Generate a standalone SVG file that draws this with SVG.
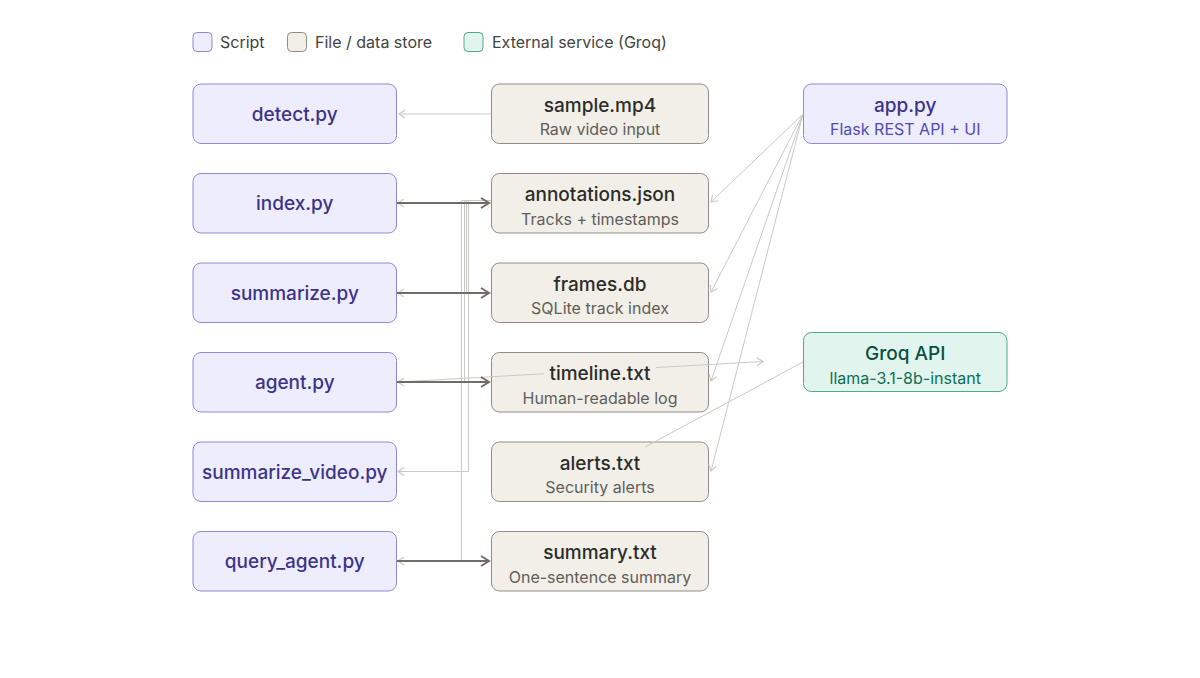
<svg xmlns="http://www.w3.org/2000/svg" width="1200" height="678" viewBox="0 0 1200 678">
<style>
  text { font-family: Inter, "Noto Sans", "Liberation Sans", sans-serif; text-anchor: middle; }
  .script { fill: #EEEDFE; stroke: #8F87DA; stroke-width: 1; }
  .file { fill: #F1EFE8; stroke: #8D8C86; stroke-width: 1; }
  .ext { fill: #E1F5EE; stroke: #4FA88A; stroke-width: 1; }
  .st { fill: #3C3489; font-size: 19px; font-weight: 500; }
  .ft { fill: #2C2C2A; font-size: 19px; font-weight: 500; }
  .fs { fill: #5F5E5A; font-size: 16px; }
  .as { fill: #534AB7; font-size: 16px; }
  .gt { fill: #085041; font-size: 19px; font-weight: 500; }
  .gs { fill: #0F6E56; font-size: 16px; }
  .leg { fill: #444441; font-size: 16px; text-anchor: start; }
  .light { fill: none; stroke: #C9C9C6; stroke-width: 1; }
  .dark { fill: none; stroke: #6E6D69; stroke-width: 2; }
</style>
<defs>
  <marker id="ah-light" markerUnits="userSpaceOnUse" markerWidth="12" markerHeight="12" viewBox="0 0 12 12" refX="10" refY="6" orient="auto">
    <path d="M4,2 L10,6 L4,10" fill="none" stroke="#C9C9C6" stroke-width="1.2"/>
  </marker>
  <marker id="ah-dark" markerUnits="userSpaceOnUse" markerWidth="14" markerHeight="14" viewBox="0 0 14 14" refX="12" refY="7" orient="auto">
    <path d="M4,2 L12,7 L4,12" fill="none" stroke="#6E6D69" stroke-width="2"/>
  </marker>
  <mask id="tlmask" maskUnits="userSpaceOnUse" x="0" y="0" width="1200" height="678">
    <rect x="0" y="0" width="1200" height="678" fill="#fff"/>
    <rect x="544" y="358" width="112" height="30" fill="#000"/>
  </mask>
</defs>

<g id="legend">
  <rect x="193" y="32.5" width="19" height="19" rx="4" class="script"/>
  <text x="220" y="47.5" class="leg">Script</text>
  <rect x="287.5" y="32.5" width="19" height="19" rx="4" class="file"/>
  <text x="315" y="47.5" class="leg">File / data store</text>
  <rect x="464" y="32.5" width="19" height="19" rx="4" class="ext"/>
  <text x="492" y="47.5" class="leg">External service (Groq)</text>
</g>

<g id="detect"><rect x="193" y="84" width="203.5" height="59.5" rx="8" class="script"/><text x="294.75" y="120.5" class="st">detect.py</text></g>
<g id="index"><rect x="193" y="173.5" width="203.5" height="59.5" rx="8" class="script"/><text x="294.75" y="210" class="st">index.py</text></g>
<g id="summarize"><rect x="193" y="263" width="203.5" height="59.5" rx="8" class="script"/><text x="294.75" y="299.5" class="st">summarize.py</text></g>
<g id="agent"><rect x="193" y="352.5" width="203.5" height="59.5" rx="8" class="script"/><text x="294.75" y="389" class="st">agent.py</text></g>
<g id="summarize_video"><rect x="193" y="442" width="203.5" height="59.5" rx="8" class="script"/><text x="294.75" y="478.5" class="st">summarize_video.py</text></g>
<g id="query_agent"><rect x="193" y="531.5" width="203.5" height="59.5" rx="8" class="script"/><text x="294.75" y="568" class="st">query_agent.py</text></g>

<g id="sample"><rect x="491.5" y="84" width="217" height="59.5" rx="8" class="file"/><text x="600" y="111.5" class="ft">sample.mp4</text><text x="600" y="135" class="fs">Raw video input</text></g>
<g id="annotations"><rect x="491.5" y="173.5" width="217" height="59.5" rx="8" class="file"/><text x="600" y="201" class="ft">annotations.json</text><text x="600" y="224.5" class="fs">Tracks + timestamps</text></g>
<g id="frames"><rect x="491.5" y="263" width="217" height="59.5" rx="8" class="file"/><text x="600" y="290.5" class="ft">frames.db</text><text x="600" y="314" class="fs">SQLite track index</text></g>
<g id="timeline"><rect x="491.5" y="352.5" width="217" height="59.5" rx="8" class="file"/><text x="600" y="380" class="ft">timeline.txt</text><text x="600" y="403.5" class="fs">Human-readable log</text></g>
<g id="alerts"><rect x="491.5" y="442" width="217" height="59.5" rx="8" class="file"/><text x="600" y="469.5" class="ft">alerts.txt</text><text x="600" y="493" class="fs">Security alerts</text></g>
<g id="summary"><rect x="491.5" y="531.5" width="217" height="59.5" rx="8" class="file"/><text x="600" y="559" class="ft">summary.txt</text><text x="600" y="582.5" class="fs">One-sentence summary</text></g>

<g id="app"><rect x="803.5" y="84" width="203.5" height="59.5" rx="8" class="script"/><text x="905.25" y="111.5" class="st">app.py</text><text x="905.25" y="135" class="as">Flask REST API + UI</text></g>
<g id="groq"><rect x="803.5" y="332.5" width="203.5" height="59" rx="8" class="ext"/><text x="905.25" y="360" class="gt">Groq API</text><text x="905.25" y="383.5" class="gs">llama-3.1-8b-instant</text></g>

<g id="connectors">
  <path class="light" d="M491,114 H399" marker-end="url(#ah-light)"/>
  <path class="light" d="M491,203 H398" marker-end="url(#ah-light)"/>
  <path class="light" d="M491,200.5 H466.5 V293 H398" marker-end="url(#ah-light)"/>
  <path class="light" d="M491,200.5 H464.5 V382 H398" marker-end="url(#ah-light)"/>
  <path class="light" d="M491,200.5 H468.5 V471.5 H398" marker-end="url(#ah-light)"/>
  <path class="light" d="M491,200.5 H461.5 V561 H398" marker-end="url(#ah-light)"/>
  <path class="light" d="M398,382 L763,361.5" marker-end="url(#ah-light)" mask="url(#tlmask)"/>
  <path class="light" d="M803,362 L645,447"/>
  <path class="light" d="M803,114 L711,202" marker-end="url(#ah-light)"/>
  <path class="light" d="M803,114 L711,292" marker-end="url(#ah-light)"/>
  <path class="light" d="M803,114 L711,381" marker-end="url(#ah-light)"/>
  <path class="light" d="M803,114 L711,471" marker-end="url(#ah-light)"/>
  <path class="dark" d="M397,203 H489" marker-end="url(#ah-dark)"/>
  <path class="dark" d="M397,293 H489" marker-end="url(#ah-dark)"/>
  <path class="dark" d="M397,382 H489" marker-end="url(#ah-dark)"/>
  <path class="dark" d="M397,561 H489" marker-end="url(#ah-dark)"/>
</g>
</svg>
